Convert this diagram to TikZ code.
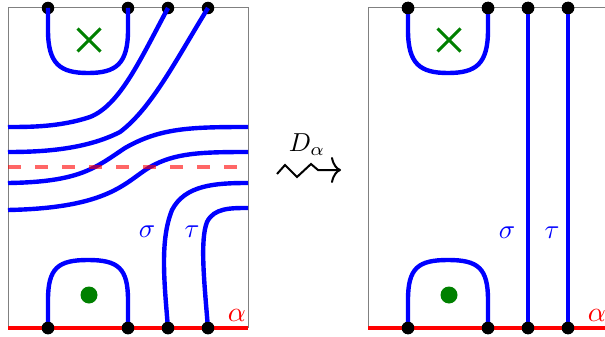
\documentclass[tikz,border=0pt]{standalone}
\usepackage{xcolor}
\definecolor{StrandBlue}{HTML}{0000FF}
\definecolor{MarkGreen}{HTML}{008000}
\usepackage{tikz}
\usetikzlibrary{arrows.meta,shapes.misc}
\begin{document}
\begin{tikzpicture}[x=1pt,y=-1pt,
frame/.style={draw=gray,line width=1pt},
strand/.style={draw=StrandBlue,line width=4.4pt},
cut/.style={draw=red,line width=4pt},
dashcut/.style={draw=red,opacity=0.6,line width=4pt,dash pattern=on 13pt off 14pt},
dot/.style={circle,fill=black,minimum size=12.5pt,inner sep=0pt},
puncture/.style={circle,fill=MarkGreen,minimum size=17pt,inner sep=0pt},
marked/.style={cross out,draw=MarkGreen,line width=3pt,minimum size=20pt,inner sep=0pt},
lbl/.style={text=StrandBlue,scale=2.7,inner sep=0pt},
cutlbl/.style={text=red,scale=2.8,inner sep=0pt}]
\useasboundingbox (0,0) rectangle (605,337);
% left panel
\draw[frame] (8,328) -- (8,8) -- (248,8) -- (248,328);
\node[dot] (la) at (48,8) {};
\node[dot] (lb) at (128,8) {};
\node[dot] (lc) at (168,8) {};
\node[dot] (ld) at (208,8) {};
\node[dot] (lp) at (48,328) {};
\node[dot] (lq) at (128,328) {};
\node[dot] (lr) at (168,328) {};
\node[dot] (ls) at (208,328) {};
\coordinate (lw1) at (8,127);
\coordinate (lw2) at (8,152);
\coordinate (lw3) at (8,183);
\coordinate (lw4) at (8,210);
\coordinate (le1) at (248,127);
\coordinate (le2) at (248,152);
\coordinate (le3) at (248,183);
\coordinate (le4) at (248,208);
\node[marked] (lx) at (89,40) {};
\node[puncture] (lo) at (89,295) {};
\draw[strand] (la.center) -- (48,30) .. controls (48,64) and (60,73) .. (88,73) .. controls (116,73) and (128,64) .. (128,30) -- (lb.center);
\draw[strand] (lp.center) -- (48,300) .. controls (48,268) and (58,260) .. (88,260) .. controls (118,260) and (128,268) .. (128,300) -- (lq.center);
\draw[strand] (lc.center) .. controls (140,60) and (120,105) .. (90,117) .. controls (60,127) and (30,127) .. (lw1);
\draw[strand] (ld.center) .. controls (177,58) and (152,108) .. (120,132) .. controls (85,150) and (40,152) .. (lw2);
\draw[strand] (le1) .. controls (190,127) and (160,128) .. (125,148) .. controls (95,168) and (80,182) .. (lw3);
\draw[strand] (le2) .. controls (200,152) and (175,153) .. (150,167) .. controls (125,182) and (110,208) .. (lw4);
\draw[strand] (lr.center) .. controls (164,280) and (160,240) .. (172,210) .. controls (185,185) and (215,183) .. (le3);
\draw[strand] (ls.center) .. controls (204,280) and (200,240) .. (207,222) .. controls (214,208) and (230,208) .. (le4);
\coordinate (dw) at (8,167);
\coordinate (de) at (250,167);
\draw[dashcut] (dw) -- (de);
\draw[cut] (8,328) -- (248,328);
\node[dot] at (lp) {};
\node[dot] at (lq) {};
\node[dot] at (lr) {};
\node[dot] at (ls) {};
\node[lbl] (lsigma) at (147,232) {$\sigma$};
\node[lbl] (ltau) at (192,232) {$\tau$};
\node[cutlbl] (lalpha) at (237,315) {$\alpha$};
% twist arrow
\coordinate (arrS) at (277,174);
\coordinate (arrE) at (341,170);
\draw[line width=2pt,-{To[length=10pt,width=26pt]}] (arrS) -- (285,165) -- (297,177) -- (311,164) -- (318,170) -- (arrE);
\node[scale=2.6] (dlabel) at (307,145) {$D_\alpha$};
% right panel
\draw[frame] (368,328) -- (368,8) -- (608,8) -- (608,328);
\node[dot] (ra) at (408,8) {};
\node[dot] (rb) at (488,8) {};
\node[dot] (rc) at (528,8) {};
\node[dot] (rd) at (568,8) {};
\node[dot] (rp) at (408,328) {};
\node[dot] (rq) at (488,328) {};
\node[dot] (rr) at (528,328) {};
\node[dot] (rs) at (568,328) {};
\node[marked] (rx) at (449,40) {};
\node[puncture] (ro) at (449,295) {};
\draw[strand] (ra.center) -- (408,30) .. controls (408,64) and (420,73) .. (448,73) .. controls (476,73) and (488,64) .. (488,30) -- (rb.center);
\draw[strand] (rp.center) -- (408,300) .. controls (408,268) and (418,260) .. (448,260) .. controls (478,260) and (488,268) .. (488,300) -- (rq.center);
\draw[strand] (rc.center) -- (rr.center);
\draw[strand] (rd.center) -- (rs.center);
\draw[cut] (368,328) -- (608,328);
\node[dot] at (ra) {};
\node[dot] at (rb) {};
\node[dot] at (rc) {};
\node[dot] at (rd) {};
\node[dot] at (rp) {};
\node[dot] at (rq) {};
\node[dot] at (rr) {};
\node[dot] at (rs) {};
\node[lbl] (rsigma) at (507,233) {$\sigma$};
\node[lbl] (rtau) at (552,233) {$\tau$};
\node[cutlbl] (ralpha) at (597,315) {$\alpha$};
\end{tikzpicture}
\end{document}
